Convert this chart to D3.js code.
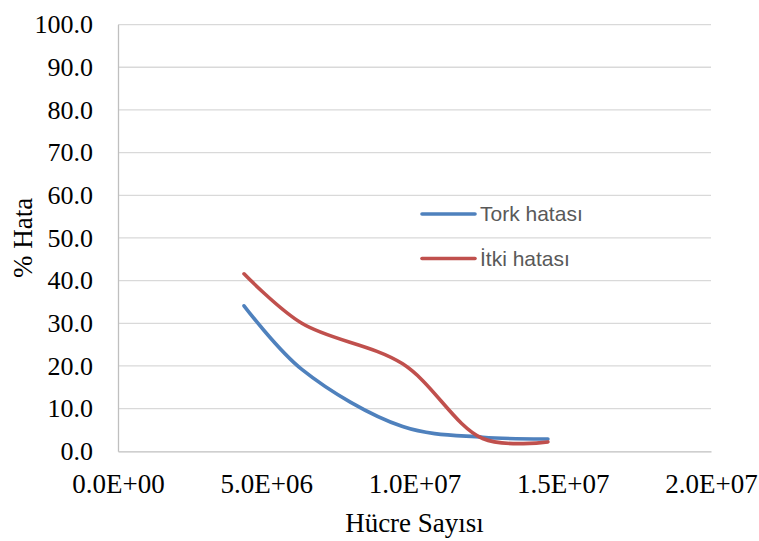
<!DOCTYPE html>
<html lang="tr">
<head>
<meta charset="utf-8">
<title>Hata</title>
<script src="https://d3js.org/d3.v7.min.js"></script>
<style>
	body, html { margin: 0; padding: 0; background: #fff; }
</style>
</head>
<body>
<div id="chart"></div>
<script>
// cell counts (x) and error values
var cellCounts = [4.25e6, 6.2e6, 9.6e6, 12.3e6, 14.5e6]
var torkError = [34.1, 19.2, 5.8, 3.3, 2.9]
var itkiError = [41.6, 30.0, 20.5, 3.0, 2.2]
var seriesNames = ["Tork hatası", "İtki hatası"]
var seriesColors = ["#4f81bd", "#c0504d"]
var xTicks = [0, 5e6, 1e7, 1.5e7, 2e7]
var yTicks = [0, 10, 20, 30, 40, 50, 60, 70, 80, 90, 100]

var width = 759, height = 541
var margin = {top: 24.6, right: 48, bottom: 89.7, left: 118}

var svg = d3.select("#chart").append("svg")
	.attr("width", width)
	.attr("height", height)

var xScale = d3.scaleLinear()
	.domain([0, 2e7])
	.range([margin.left, width - margin.right])
var yScale = d3.scaleLinear()
	.domain([0, 100])
	.range([height - margin.bottom, margin.top])

// gridlines
svg.append("g")
	.selectAll("line")
	.data(yTicks.filter(d => d > 0))
	.enter().append("line")
	.attr("x1", xScale(0))
	.attr("x2", xScale(2e7))
	.attr("y1", d => yScale(d))
	.attr("y2", d => yScale(d))
	.attr("stroke", "#d9d9d9")
	.attr("stroke-width", 1.3)

// axes
var yAxis = svg.append("g")
	.attr("transform", "translate(" + xScale(0) + ",0)")
	.call(d3.axisLeft(yScale).tickValues(yTicks).tickFormat(d3.format(".1f")).tickSize(0).tickPadding(25))
yAxis.select(".domain").attr("stroke", "#bfbfbf").attr("stroke-width", 1.3)
yAxis.selectAll(".tick text")
	.attr("font-family", "Liberation Serif")
	.attr("font-size", "26px")
	.attr("fill", "#000")

var fmtSci = d => {
	var e = d === 0 ? 0 : Math.floor(Math.log10(d))
	var m = d === 0 ? 0 : d / Math.pow(10, e)
	return m.toFixed(1) + "E+" + String(e).padStart(2, "0")
}
var xAxis = svg.append("g")
	.attr("transform", "translate(0," + yScale(0) + ")")
	.call(d3.axisBottom(xScale).tickValues(xTicks).tickFormat(fmtSci).tickSize(0).tickPadding(23))
xAxis.select(".domain").attr("stroke", "#bfbfbf").attr("stroke-width", 1.3)
xAxis.selectAll(".tick text")
	.attr("font-family", "Liberation Serif")
	.attr("font-size", "27px")
	.attr("fill", "#000")

// lines
var line = d3.line()
	.x(d => xScale(d[0]))
	.y(d => yScale(d[1]))
	.curve(d3.curveCatmullRom.alpha(0.5))

var series = [torkError, itkiError]
series.forEach((vals, i) => {
	svg.append("path")
		.attr("d", line(cellCounts.map((c, j) => [c, vals[j]])))
		.attr("fill", "none")
		.attr("stroke", seriesColors[i])
		.attr("stroke-width", 3.6)
		.attr("stroke-linecap", "round")
})

// legend
seriesNames.forEach((name, i) => {
	var ly = 214 + i * 44.5
	svg.append("line")
		.attr("x1", 422).attr("x2", 475)
		.attr("y1", ly).attr("y2", ly)
		.attr("stroke", seriesColors[i])
		.attr("stroke-width", 3.6)
		.attr("stroke-linecap", "round")
	svg.append("text")
		.attr("x", 480)
		.attr("y", ly)
		.attr("dy", "0.35em")
		.attr("font-family", "Liberation Sans")
		.attr("font-size", "21px")
		.attr("fill", "#595959")
		.text(name)
})

// axis titles
svg.append("text")
	.text("Hücre Sayısı")
	.attr("text-anchor", "middle")
	.attr("x", (xScale(0) + xScale(2e7)) / 2)
	.attr("y", 532)
	.attr("font-family", "Liberation Serif")
	.attr("font-size", "27px")

svg.append("text")
	.text("% Hata")
	.attr("text-anchor", "middle")
	.attr("transform", "translate(32," + (yScale(50)) + ") rotate(-90)")
	.attr("font-family", "Liberation Serif")
	.attr("font-size", "27px")
</script>
</body>
</html>
